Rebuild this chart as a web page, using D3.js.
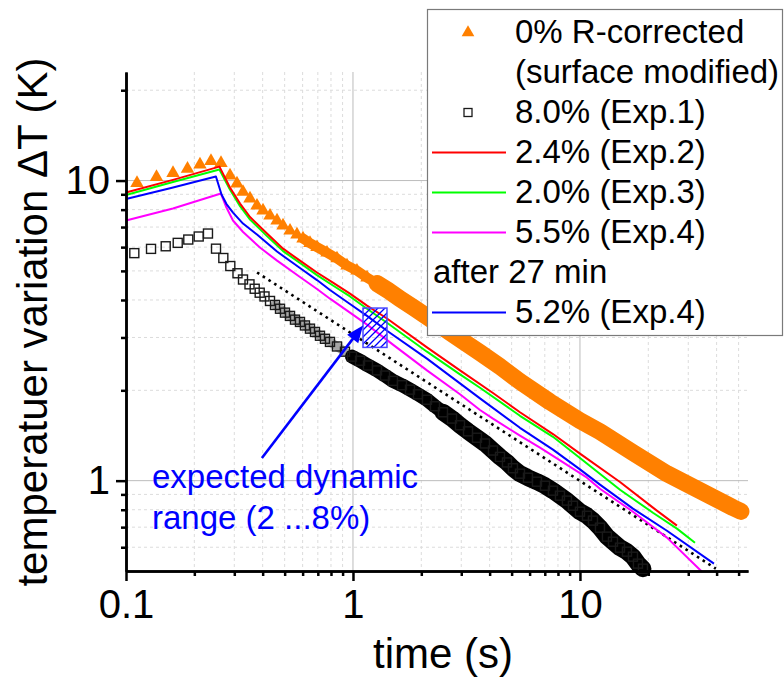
<!DOCTYPE html>
<html lang="en">
<head>
<meta charset="UTF-8">
<title>temperature decay</title>
<script src="https://cdn.jsdelivr.net/npm/d3@7"></script>
<style>
  body { margin: 0; background: #fff; }
  svg { display: block; font-family: "Liberation Sans", Arial, sans-serif; }
</style>
</head>
<body>
<script>
// [time (s), deltaT (K)]
let rCorrected = [
  [0.1118, 9.81], [0.1363, 10.27], [0.1611, 10.59], [0.1866, 10.94], [0.2118, 11.31],
  [0.2368, 11.61], [0.2621, 11.44], [0.2872, 10.39], [0.3083, 9.77], [0.3277, 9.16],
  [0.3518, 8.71], [0.3777, 8.25], [0.4014, 7.94], [0.431, 7.64], [0.4627, 7.36],
  [0.4917, 7.08], [0.528, 6.81], [0.5665, 6.61], [0.6022, 6.41], [0.6465, 6.19],
  [0.6941, 6.00], [0.7682, 5.75], [0.8503, 5.50], [0.941, 5.21], [1.041, 5.01],
  [1.153, 4.75], [1.276, 4.54], [1.43, 4.30], [1.611, 4.04], [1.85, 3.77], [2.118, 3.52],
  [2.758, 3.07], [3.627, 2.67], [4.443, 2.40], [5.441, 2.14], [7.377, 1.83], [10, 1.585],
  [12.25, 1.457], [17.12, 1.24], [24.17, 1.055], [33.79, 0.926], [47.21, 0.813], [51.2, 0.79]
];
let exp1 = [
  [0.1088, 5.73], [0.1289, 5.92], [0.1496, 6.04], [0.169, 6.20], [0.1881, 6.36],
  [0.2091, 6.51], [0.2297, 6.66], [0.2492, 5.93], [0.2684, 5.52], [0.2881, 5.19],
  [0.3099, 4.91], [0.3277, 4.68], [0.35, 4.51], [0.369, 4.36], [0.3882, 4.23],
  [0.4076, 4.11], [0.431, 3.97], [0.4534, 3.85], [0.477, 3.74], [0.5016, 3.63],
  [0.528, 3.54], [0.5553, 3.44], [0.5841, 3.38], [0.6143, 3.29], [0.6465, 3.21],
  [0.6802, 3.13], [0.7155, 3.04], [0.7526, 2.97], [0.7919, 2.90], [0.8503, 2.80],
  [0.9221, 2.69], [0.99, 2.59], [1.074, 2.51], [1.164, 2.42], [1.276, 2.33],
  [1.384, 2.24], [1.5, 2.15], [1.644, 2.08], [1.783, 2.01], [1.933, 1.94],
  [2.118, 1.86], [2.297, 1.77], [2.492, 1.69], [2.731, 1.61], [2.961, 1.53],
  [3.212, 1.46], [3.518, 1.39], [3.815, 1.33], [4.138, 1.26], [4.443, 1.20],
  [4.77, 1.15], [5.068, 1.10], [5.441, 1.055], [5.9, 1.023], [6.465, 0.992],
  [7.013, 0.962], [7.605, 0.926], [8.164, 0.891], [8.763, 0.858], [9.316, 0.825],
  [10, 0.788], [10.74, 0.764], [11.41, 0.736], [12.25, 0.697], [13.15, 0.651],
  [13.98, 0.626], [15.01, 0.598], [16.11, 0.58], [17.12, 0.558], [18.01, 0.529], [18.95, 0.509]
];
let exp2 = [
  [0.1, 9.12], [0.161, 10.05], [0.258, 11.13], [0.287, 9.48], [0.318, 8.38],
  [0.352, 7.56], [0.418, 6.66], [0.492, 5.93], [0.584, 5.41], [0.694, 4.94],
  [0.816, 4.57], [0.97, 4.20], [1.153, 3.83], [1.412, 3.47], [2.118, 2.78],
  [2.961, 2.33], [4.138, 1.96], [5.441, 1.69], [7.605, 1.43], [10, 1.23],
  [15.01, 0.99], [20.97, 0.813], [26.75, 0.708]
];
let exp3 = [
  [0.1, 8.95], [0.161, 9.89], [0.258, 10.88], [0.287, 9.33], [0.318, 8.22],
  [0.352, 7.41], [0.418, 6.53], [0.492, 5.82], [0.584, 5.31], [0.694, 4.84],
  [0.816, 4.47], [0.97, 4.11], [1.153, 3.74], [1.412, 3.36], [2.118, 2.69],
  [2.961, 2.26], [3.627, 2.04], [5.441, 1.645], [7.605, 1.40], [10, 1.19],
  [15.01, 0.933], [20.97, 0.782], [26.75, 0.692], [32.12, 0.621]
];
let exp4 = [
  [0.1, 7.36], [0.161, 8.07], [0.262, 9.05], [0.277, 8.13], [0.296, 7.36],
  [0.328, 6.74], [0.389, 5.98], [0.463, 5.41], [0.584, 4.77], [0.694, 4.35],
  [0.792, 4.04], [0.97, 3.63], [1.153, 3.31], [1.5, 2.84], [2.118, 2.33],
  [2.961, 1.94], [3.627, 1.72], [4.138, 1.61], [5.441, 1.413], [6.665, 1.288],
  [7.605, 1.21], [10.74, 1.023], [12.25, 0.94], [17.12, 0.788], [24.17, 0.646], [34.48, 0.497]
];
let exp4Late = [
  [0.1, 8.68], [0.158, 9.44], [0.249, 10.31], [0.2635, 8.98], [0.2772, 8.35],
  [0.2961, 7.82], [0.3277, 7.19], [0.3777, 6.61], [0.4627, 5.80], [0.5841, 5.11],
  [0.6941, 4.66], [0.7919, 4.32], [0.9701, 3.88], [1.153, 3.54], [1.412, 3.16],
  [2.118, 2.55], [2.961, 2.11], [3.627, 1.88], [5.441, 1.50], [7.605, 1.269],
  [10, 1.09], [12.25, 0.97], [17.12, 0.807], [24.17, 0.681], [38.94, 0.529]
];
let refSlope = [[0.378, 4.94], [39.7, 0.509]];

let xTicks = [0.1, 1, 10];
let yTicks = [1, 10];
let legendLabels = ['0% R-corrected', '(surface modified)', '8.0% (Exp.1)', '2.4% (Exp.2)',
  '2.0% (Exp.3)', '5.5% (Exp.4)', 'after 27 min', '5.2% (Exp.4)'];
let noteLines = ['expected dynamic', 'range (2 ...8%)'];
let rangeBox = [[1.107, 3.76], [1.412, 2.78]];
let arrowFrom = [0.397, 1.19];
let arrowTo = [1.107, 3.29];

const ORANGE = '#ff8000', RED = '#ff0000', GREEN = '#00ff00', MAGENTA = '#ff00ff', BLUE = '#0000ff';

let x = d3.scaleLog().domain([0.1, 55]).range([126, 748]);
let y = d3.scaleLog().domain([0.5, 23]).range([571, 72]);
let line = d3.line().x(d => x(d[0])).y(d => y(d[1]));

let svg = d3.select('body').append('svg')
  .attr('width', 784)
  .attr('height', 682);

function isDecade(v) {
  let l = Math.log10(v);
  return Math.abs(l - Math.round(l)) < 1e-6;
}

function renderGrid() {
  let g = svg.append('g').attr('class', 'grid');
  g.selectAll('line.gx')
    .data(x.ticks().filter(v => v > x.domain()[0]))
    .enter().append('line')
    .attr('x1', d => x(d)).attr('x2', d => x(d))
    .attr('y1', y.range()[1]).attr('y2', y.range()[0])
    .attr('stroke', d => isDecade(d) ? '#bcbcbc' : '#dcdcdc')
    .attr('stroke-width', 1)
    .attr('stroke-dasharray', d => isDecade(d) ? null : '3,3');
  g.selectAll('line.gy')
    .data(y.ticks().filter(v => v > y.domain()[0]))
    .enter().append('line')
    .attr('y1', d => y(d)).attr('y2', d => y(d))
    .attr('x1', x.range()[0]).attr('x2', x.range()[1])
    .attr('stroke', d => isDecade(d) ? '#bcbcbc' : '#dcdcdc')
    .attr('stroke-width', 1)
    .attr('stroke-dasharray', d => isDecade(d) ? null : '3,3');
}

// thick stroke along part of a scatter series, where its markers merge into a band
function band(g, data, from, color, width, opacity) {
  g.append('path')
    .datum(data.filter(d => d[0] >= from[0] && d[0] <= from[1]))
    .attr('d', line)
    .attr('fill', 'none').attr('stroke', color)
    .attr('stroke-opacity', opacity)
    .attr('stroke-width', width)
    .attr('stroke-linejoin', 'round').attr('stroke-linecap', 'round');
}

function renderSeries() {
  let g = svg.append('g').attr('class', 'body');

  band(g, exp1, [0.45, 1.1], '#000', 9, 0.35);
  band(g, exp1, [0.99, 4], '#000', 14, 1);
  band(g, exp1, [2.4, 100], '#000', 17, 1);
  g.selectAll('rect.sq')
    .data(exp1)
    .enter().append('rect')
    .attr('class', 'sq')
    .attr('x', d => x(d[0]) - 4.5).attr('y', d => y(d[1]) - 4.5)
    .attr('width', 9).attr('height', 9)
    .attr('fill', 'none').attr('stroke', '#1a1a1a').attr('stroke-width', 1.4);

  band(g, rCorrected, [0.6, 100], ORANGE, 10, 1);
  band(g, rCorrected, [1.25, 100], ORANGE, 17, 1);
  g.selectAll('path.tri')
    .data(rCorrected)
    .enter().append('path')
    .attr('class', 'tri')
    .attr('d', d3.symbol(d3.symbolTriangle, 78))
    .attr('transform', d => 'translate(' + x(d[0]) + ',' + y(d[1]) + ')')
    .attr('fill', ORANGE);

  g.append('path')
    .datum(refSlope)
    .attr('d', line)
    .attr('fill', 'none').attr('stroke', '#000')
    .attr('stroke-width', 2.6).attr('stroke-dasharray', '2.6,4.2');

  [[exp4, MAGENTA], [exp4Late, BLUE], [exp3, GREEN], [exp2, RED]].forEach(function (s) {
    g.append('path')
      .datum(s[0])
      .attr('d', line)
      .attr('fill', 'none').attr('stroke', s[1])
      .attr('stroke-width', 2)
      .attr('stroke-linejoin', 'round');
  });
}

function renderAnnotation() {
  let g = svg.append('g').attr('class', 'note');
  let defs = svg.append('defs');
  defs.append('pattern')
    .attr('id', 'hatch')
    .attr('patternUnits', 'userSpaceOnUse')
    .attr('width', 7).attr('height', 7)
    .append('path')
    .attr('d', 'M-1,1 l2,-2 M0,7 l7,-7 M6,8 l2,-2')
    .attr('stroke', BLUE).attr('stroke-width', 1.3);

  g.append('rect')
    .attr('x', x(rangeBox[0][0])).attr('y', y(rangeBox[0][1]))
    .attr('width', x(rangeBox[1][0]) - x(rangeBox[0][0]))
    .attr('height', y(rangeBox[1][1]) - y(rangeBox[0][1]))
    .attr('fill', 'url(#hatch)')
    .attr('stroke', '#4848ff').attr('stroke-width', 1.5);

  let p0 = [x(arrowFrom[0]), y(arrowFrom[1])];
  let p1 = [x(arrowTo[0]), y(arrowTo[1])];
  let len = Math.hypot(p1[0] - p0[0], p1[1] - p0[1]);
  let u = [(p1[0] - p0[0]) / len, (p1[1] - p0[1]) / len];
  let n = [-u[1], u[0]];
  let headLen = 17, headHalf = 7;
  let base = [p1[0] - u[0] * headLen, p1[1] - u[1] * headLen];
  g.append('line')
    .attr('x1', p0[0]).attr('y1', p0[1])
    .attr('x2', base[0] + u[0] * 2).attr('y2', base[1] + u[1] * 2)
    .attr('stroke', BLUE).attr('stroke-width', 2.6);
  g.append('path')
    .attr('d', 'M' + p1 + 'L' + [base[0] + n[0] * headHalf, base[1] + n[1] * headHalf] +
      'L' + [base[0] - n[0] * headHalf, base[1] - n[1] * headHalf] + 'Z')
    .attr('fill', BLUE);

  g.selectAll('text')
    .data(noteLines)
    .enter().append('text')
    .attr('x', 152)
    .attr('y', (d, i) => 488 + i * 41)
    .attr('font-size', 33)
    .attr('fill', BLUE)
    .text(d => d);
}

function renderAxes() {
  let g = svg.append('g').attr('class', 'axes');
  let y0 = y.range()[0], x0 = x.range()[0];
  g.append('g').attr('transform', 'translate(0,' + y0 + ')')
    .call(d3.axisBottom(x).tickValues(x.ticks().filter(v => !isDecade(v)))
      .tickSize(5).tickSizeOuter(0).tickFormat(''));
  g.append('g').attr('transform', 'translate(0,' + y0 + ')')
    .call(d3.axisBottom(x).tickValues(xTicks)
      .tickSize(10).tickSizeOuter(0).tickPadding(9).tickFormat(d => d));
  g.append('g').attr('transform', 'translate(' + x0 + ',0)')
    .call(d3.axisLeft(y).tickValues(y.ticks().filter(v => !isDecade(v) && v > y.domain()[0]))
      .tickSize(5).tickSizeOuter(0).tickFormat(''));
  g.append('g').attr('transform', 'translate(' + x0 + ',0)')
    .call(d3.axisLeft(y).tickValues(yTicks)
      .tickSize(10).tickSizeOuter(0).tickPadding(6).tickFormat(d => d));
  g.selectAll('path.domain, line').attr('stroke', '#000').attr('stroke-width', 2.5);
  g.selectAll('text')
    .attr('font-size', 40)
    .attr('font-family', '"Liberation Sans", Arial, sans-serif')
    .attr('fill', '#000');

  svg.append('text')
    .attr('x', 443).attr('y', 668)
    .attr('text-anchor', 'middle')
    .attr('font-size', 42)
    .text('time (s)');
  svg.append('text')
    .attr('transform', 'translate(47,322) rotate(-90)')
    .attr('text-anchor', 'middle')
    .attr('font-size', 42)
    .text('temperatuer variation \u0394T (K)');
}

function renderLegend() {
  let g = svg.append('g').attr('class', 'legend');
  let kinds = [
    {kind: 'tri', color: ORANGE}, {kind: 'text'}, {kind: 'sq'},
    {kind: 'line', color: RED}, {kind: 'line', color: GREEN}, {kind: 'line', color: MAGENTA},
    {kind: 'head'}, {kind: 'line', color: BLUE}
  ];
  g.append('rect')
    .attr('x', 427.5).attr('y', 9.5)
    .attr('width', 355).attr('height', 326)
    .attr('fill', '#fff').attr('stroke', '#7a7a7a').attr('stroke-width', 1.2);

  legendLabels.forEach(function (label, i) {
    let base = 43 + i * 40;
    let cy = base - 10.5;
    let k = kinds[i];
    if (k.kind === 'tri') {
      g.append('path')
        .attr('d', d3.symbol(d3.symbolTriangle, 70))
        .attr('transform', 'translate(468,' + cy + ')')
        .attr('fill', k.color);
    } else if (k.kind === 'sq') {
      g.append('rect')
        .attr('x', 464).attr('y', cy - 4).attr('width', 8).attr('height', 8)
        .attr('fill', 'none').attr('stroke', '#1a1a1a').attr('stroke-width', 1.3);
    } else if (k.kind === 'line') {
      g.append('line')
        .attr('x1', 432).attr('x2', 506).attr('y1', cy).attr('y2', cy)
        .attr('stroke', k.color).attr('stroke-width', 2);
    }
    g.append('text')
      .attr('x', k.kind === 'head' ? 433 : 515)
      .attr('y', base)
      .attr('font-size', 33)
      .text(label);
  });
}

renderGrid();
renderSeries();
renderAnnotation();
renderAxes();
renderLegend();
</script>
</body>
</html>
